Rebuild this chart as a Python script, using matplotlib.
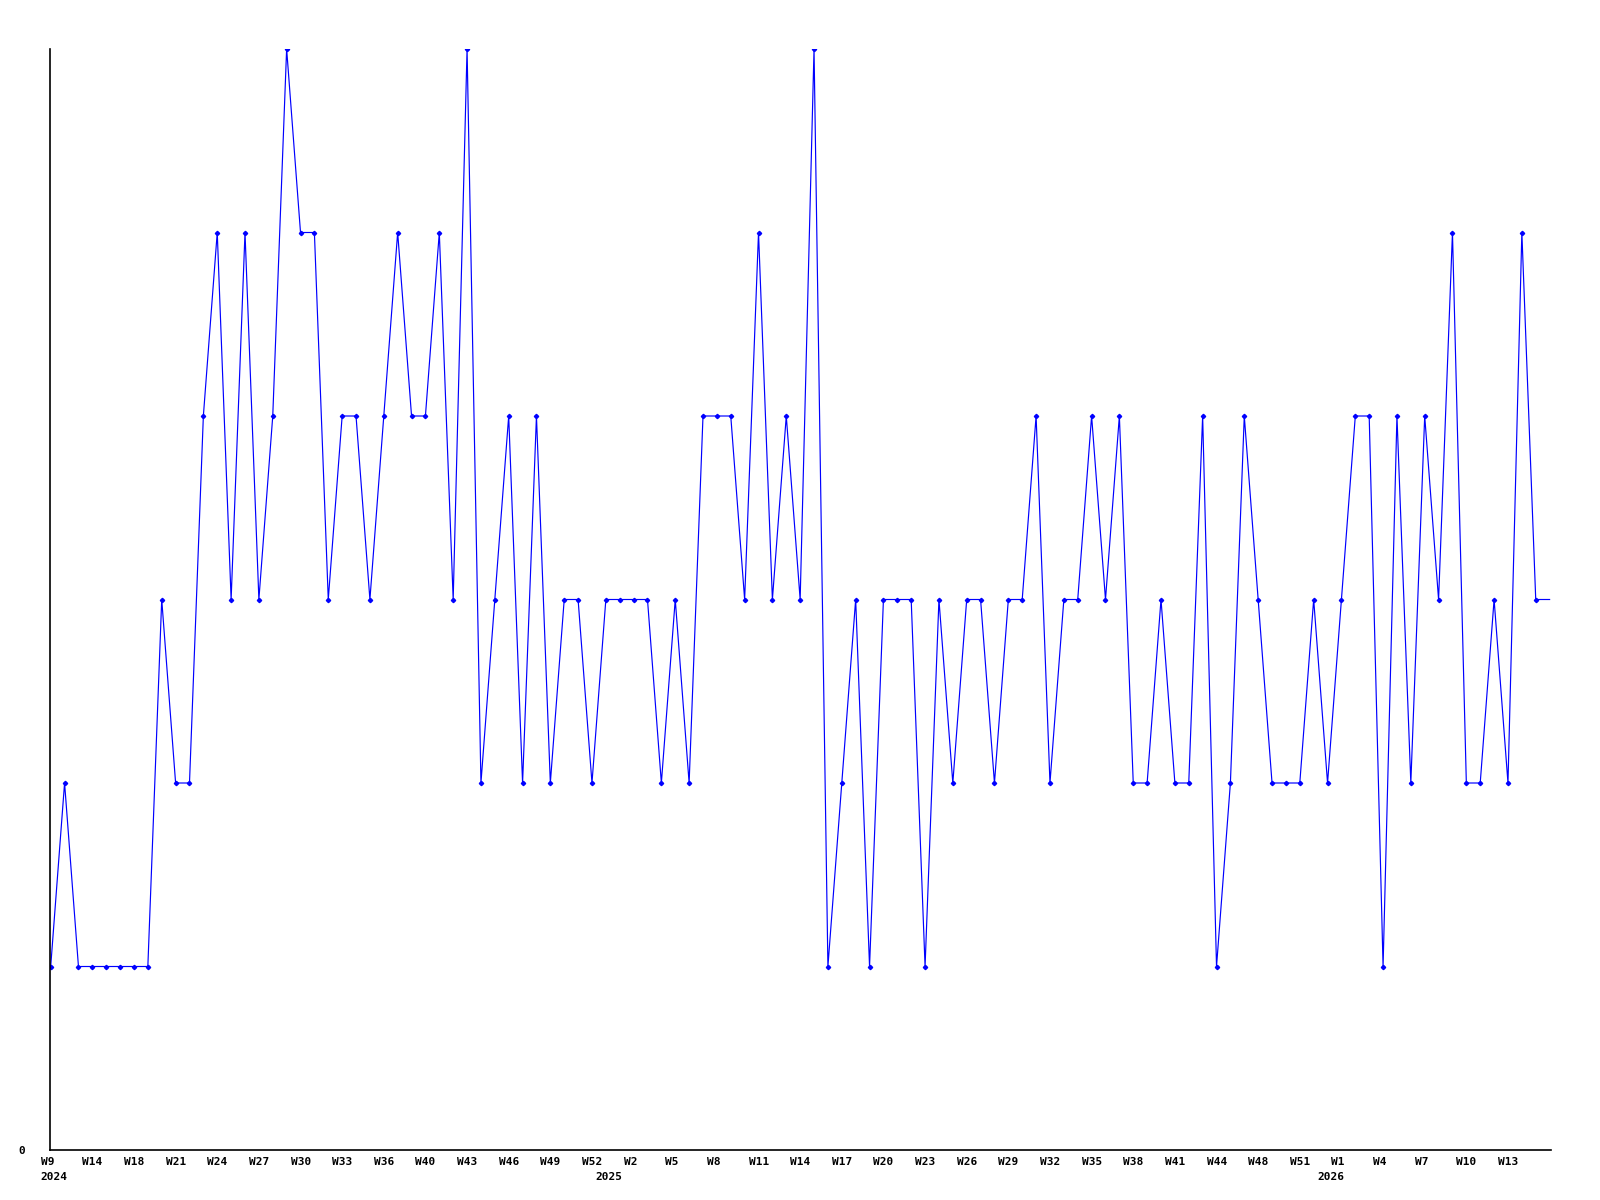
import matplotlib
matplotlib.use('Agg')
import matplotlib.pyplot as plt
import matplotlib.transforms as mtransforms
import numpy as np

# weekly counts, one per point
values = [1, 2, 1, 1, 1, 1, 1, 1, 3, 2,
          2, 4, 5, 3, 5, 3, 4, 6, 5, 5,
          3, 4, 4, 3, 4, 5, 4, 4, 5, 3,
          6, 2, 3, 4, 2, 4, 2, 3, 3, 2,
          3, 3, 3, 3, 2, 3, 2, 4, 4, 4,
          3, 5, 3, 4, 3, 6, 1, 2, 3, 1,
          3, 3, 3, 1, 3, 2, 3, 3, 2, 3,
          3, 4, 2, 3, 3, 4, 3, 4, 2, 2,
          3, 2, 2, 4, 1, 2, 4, 3, 2, 2,
          2, 3, 2, 3, 4, 4, 1, 4, 2, 4,
          3, 5, 2, 2, 3, 2, 5, 3]
last_value = 3  # current week, drawn without a marker

week_labels = ['W9', 'W14', 'W18', 'W21', 'W24', 'W27', 'W30', 'W33', 'W36',
               'W40', 'W43', 'W46', 'W49', 'W52', 'W2', 'W5', 'W8', 'W11',
               'W14', 'W17', 'W20', 'W23', 'W26', 'W29', 'W32', 'W35', 'W38',
               'W41', 'W44', 'W48', 'W51', 'W1', 'W4', 'W7', 'W10', 'W13']
week_label_pos = list(range(0, 3 * len(week_labels), 3))
years = ['2024', '2025', '2026']
year_pos = [0, 40, 92]

fig = plt.figure(figsize=(16, 12), dpi=100)
W, H = 1600, 1200
ax = fig.add_axes([50 / W, 50 / H, (1551 - 50) / W, (1150 - 49) / H])

x = np.arange(len(values))
ax.plot(np.append(x, len(values)), values + [last_value], color='#0000ff', lw=0.85)
ax.plot(x, values, ls='none', marker='D', ms=2.2, color='#0000ff')

ax.set_xlim(-0.05, 108.1)
ax.set_ylim(0, 6)
for s in ['top', 'right']:
    ax.spines[s].set_visible(False)
for s in ['left', 'bottom']:
    ax.spines[s].set_linewidth(1.2)
    ax.spines[s].set_color('black')
ax.set_xticks([])
ax.set_yticks([0])
ax.set_yticklabels(['0'], fontfamily='DejaVu Sans Mono', fontweight='bold', fontsize=8)
ax.tick_params(axis='y', length=0, pad=18)

font = dict(fontfamily='DejaVu Sans Mono', fontweight='bold', fontsize=8)
week_tr = ax.get_xaxis_transform() + mtransforms.ScaledTranslation(-10 / 100, -7 / 100, fig.dpi_scale_trans)
for p, lab in zip(week_label_pos, week_labels):
    ax.text(p, 0, lab, transform=week_tr, ha='left', va='top', **font)
year_tr = ax.get_xaxis_transform() + mtransforms.ScaledTranslation(-10 / 100, -22 / 100, fig.dpi_scale_trans)
for p, lab in zip(year_pos, years):
    ax.text(p, 0, lab, transform=year_tr, ha='left', va='top', **font)

fig.savefig('out.png', dpi=100, facecolor='white')
